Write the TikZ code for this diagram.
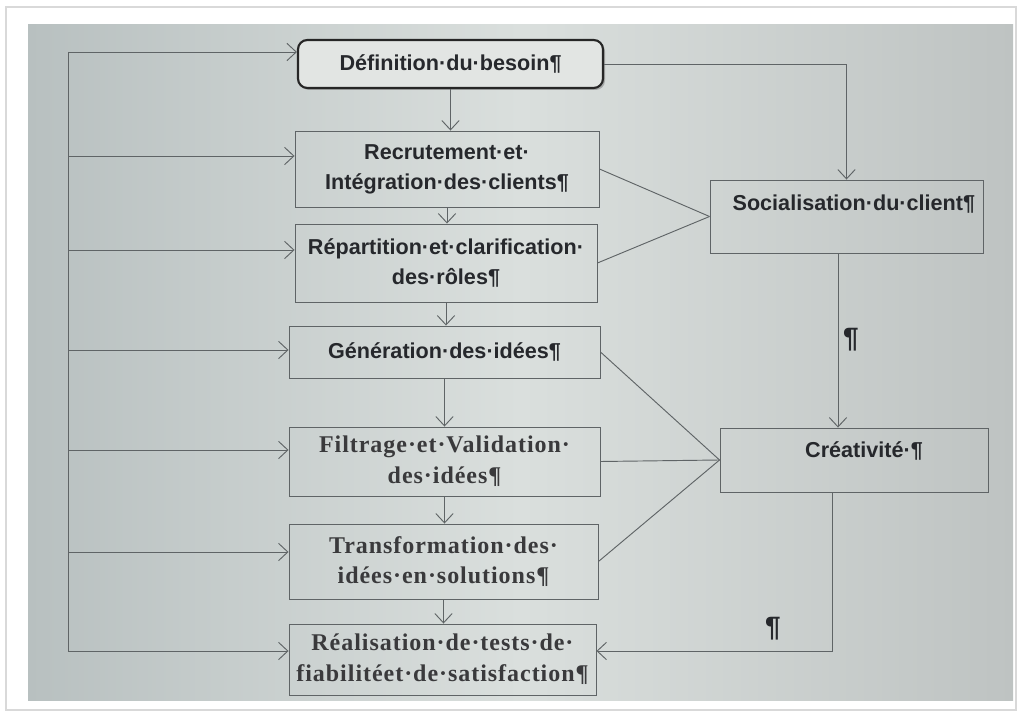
\documentclass[tikz,border=0pt]{standalone}
\usepackage{fontspec}
\setmainfont{Liberation Serif}
\setsansfont{Liberation Sans}
\newfontfamily\spacedserif[LetterSpace=4]{Liberation Serif}
\usetikzlibrary{arrows.meta,shadows,calc}

\definecolor{screenA}{RGB}{184,192,192}
\definecolor{screenB}{RGB}{218,223,221}
\definecolor{screenC}{RGB}{190,195,194}
\definecolor{ink}{RGB}{38,40,44}
\definecolor{linec}{RGB}{95,100,102}
\definecolor{serifink}{RGB}{58,58,60}
\definecolor{deffill}{RGB}{226,229,227}

\begin{document}
\begin{tikzpicture}[x=0.75pt,y=-0.75pt,
  box/.style={draw=linec, line width=0.7pt, inner sep=2pt, align=center},
  sansbox/.style={box, font=\sffamily\bfseries\fontsize{16.2}{22.5}\selectfont, text=ink},
  serifbox/.style={box, font=\spacedserif\bfseries\fontsize{18}{23}\selectfont, text=serifink},
  conn/.style={draw=linec, line width=0.7pt},
  arr/.style={conn, -{Straight Barb[length=7pt,width=13pt]}},
  pil/.style={font=\sffamily\bfseries\fontsize{21}{22}\selectfont, text=ink}]

\useasboundingbox (0,0) rectangle (1021,716);
\fill[white] (0,0) rectangle (1021,716);
\draw[black!15, line width=1pt] (6,7) rectangle (1016,710);
\shade[left color=screenA, right color=screenC, middle color=screenB] (28,25) rectangle (1013,700);

% main column
\node[sansbox, rounded corners=7pt, line width=1.6pt, draw=black!85, fill=deffill,
      drop shadow={shadow xshift=1.5pt, shadow yshift=-1.5pt, opacity=0.55},
      minimum width=228.75pt, minimum height=36pt] (def) at (450.5,64) {Définition·du·besoin¶};
\node[sansbox, minimum width=228pt, minimum height=57pt] (rec) at (447,169) {Recrutement·et·\\Intégration·des·clients¶};
\node[sansbox, minimum width=226.5pt, minimum height=58.5pt] (rep) at (446,263) {Répartition·et·clarification·\\des·rôles¶};
\node[sansbox, minimum width=233.25pt, minimum height=39pt] (gen) at (444.5,352) {Génération·des·idées¶};
\node[serifbox, minimum width=233.25pt, minimum height=51.75pt] (fil) at (444.5,461.5) {Filtrage·et·Validation·\\des·idées¶};
\node[serifbox, minimum width=231.75pt, minimum height=56.25pt] (tra) at (443.5,561.5) {Transformation·des·\\idées·en·solutions¶};
\node[serifbox, minimum width=230.25pt, minimum height=53.25pt] (rea) at (442.5,659.5) {Réalisation·de·tests·de·\\fiabilitéet·de·satisfaction¶};

% right column
\node[sansbox, minimum width=204.75pt, minimum height=54.75pt, text depth=21pt] (soc) at (846.5,216.5) {\hspace*{11pt}Socialisation·du·client¶};
\node[sansbox, minimum width=201pt, minimum height=48pt, text depth=16pt] (cre) at (854,460) {\hspace*{15pt}Créativité·¶};

% left feedback bus
\coordinate (b0) at (68,52);
\coordinate (b1) at (68,156);
\coordinate (b2) at (68,250);
\coordinate (b3) at (68,350);
\coordinate (b4) at (68,450);
\coordinate (b5) at (68,552);
\coordinate (b6) at (68,651);
\draw[conn] (b0) -- (b6);
\draw[arr] (b0) -- (b0 -| def.west);
\draw[arr] (b1) -- (b1 -| rec.west);
\draw[arr] (b2) -- (b2 -| rep.west);
\draw[arr] (b3) -- (b3 -| gen.west);
\draw[arr] (b4) -- (b4 -| fil.west);
\draw[arr] (b5) -- (b5 -| tra.west);
\draw[arr] (b6) -- (b6 -| rea.west);

% vertical flow
\draw[arr] (def.south) -- (def.south |- rec.north);
\draw[arr] (rec.south) -- (rec.south |- rep.north);
\draw[arr] (rep.south) -- (rep.south |- gen.north);
\draw[arr] (gen.south) -- (gen.south |- fil.north);
\draw[arr] (fil.south) -- (fil.south |- tra.north);
\draw[arr] (tra.south) -- (tra.south |- rea.north);

% right side
\draw[arr] (def.east) -- (def.east -| soc.north) -- (soc.north);
\draw[conn] (rec.east) -- (soc.west);
\draw[conn] (rep.east) -- (soc.west);
\draw[conn] (gen.east) -- (cre.west);
\draw[conn] (fil.east) -- (cre.west);
\draw[conn] (tra.east) -- (cre.west);

\coordinate (vx) at (838,0);
\draw[arr] (vx |- soc.south) -- (vx |- cre.north);
\node[pil] (p1) at (851,340) {¶};

\coordinate (vy) at (832,0);
\draw[arr] (vy |- cre.south) -- (vy |- b6) -- (b6 -| rea.east);
\node[pil] (p2) at (773,629) {¶};
\end{tikzpicture}
\end{document}
